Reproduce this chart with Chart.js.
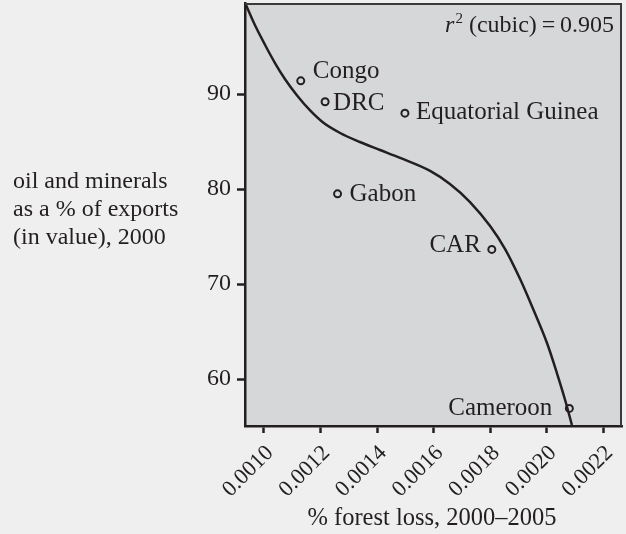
<!DOCTYPE html>
<html><head><meta charset="utf-8">
<script src="https://cdn.jsdelivr.net/npm/chart.js@4.4.0/dist/chart.umd.min.js"></script>
<style>html,body{margin:0;padding:0;background:#efefef;}canvas{display:block}</style>
</head><body><canvas id="c" width="626" height="534"></canvas>
<script>
// ---- data ----
const countries = ['Congo', 'DRC', 'Equatorial Guinea', 'Gabon', 'CAR', 'Cameroon'];
const forestLoss = [0.00113, 0.001216, 0.001498, 0.00126, 0.001805, 0.002079];
const oilMinerals = [91.4, 89.2, 88.0, 79.5, 73.65, 56.9];
// cubic fit curve
const fitX = [0.0009365, 0.000968, 0.001004, 0.001039, 0.001074, 0.001117, 0.001163, 0.001209, 0.001269, 0.001339, 0.00141, 0.001481, 0.001587, 0.001657, 0.001728, 0.001799, 0.001852, 0.001905, 0.001951, 0.002, 0.002035, 0.002064, 0.002088];
const fitY = [99.39, 97.28, 95.18, 93.28, 91.6, 89.86, 88.28, 87.01, 85.91, 84.96, 84.12, 83.28, 81.91, 80.54, 78.64, 76.11, 73.69, 70.53, 67.37, 63.79, 60.63, 57.79, 55.16];
const xTicks = [0.0010, 0.0012, 0.0014, 0.0016, 0.0018, 0.0020, 0.0022];
const yTicks = [60, 70, 80, 90];
const xTitle = '% forest loss, 2000\u20132005';
const yTitle = ['oil and minerals', 'as a % of exports', '(in value), 2000'];
const fitLabel = ['r', '2', '(cubic)\u2009=\u20090.905'];

// ---- label placement (layout only) ----
const labelPlace = [
  {side: 'right', dx: 12, dy: -9},
  {side: 'right', dx: 8, dy: 2},
  {side: 'right', dx: 11, dy: -1},
  {side: 'right', dx: 12, dy: 1},
  {side: 'left', dx: -11, dy: -4},
  {side: 'left', dx: -17, dy: 0}
];

const INK = '#231f20';
const FONT = 'Liberation Serif, Times New Roman, serif';

const deco = {
  id: 'deco',
  beforeDraw(chart) {
    const {ctx, chartArea: a} = chart;
    ctx.save();
    ctx.fillStyle = '#efefef';
    ctx.fillRect(0, 0, chart.width, chart.height);
    ctx.fillStyle = '#d6d7d9';
    ctx.fillRect(a.left, a.top, a.right - a.left, a.bottom - a.top);
    ctx.restore();
  },
  afterDraw(chart) {
    const {ctx, chartArea: a, scales} = chart;
    ctx.save();
    // top/right frame
    ctx.strokeStyle = '#3a3a3a';
    ctx.lineWidth = 2;
    ctx.beginPath();
    ctx.moveTo(a.left, a.top + 1);
    ctx.lineTo(a.right - 1, a.top + 1);
    ctx.lineTo(a.right - 1, a.bottom);
    ctx.stroke();
    ctx.fillStyle = INK;
    ctx.textBaseline = 'middle';
    ctx.font = '25px ' + FONT;
    // point labels
    countries.forEach((name, i) => {
      const px = scales.x.getPixelForValue(forestLoss[i]);
      const py = scales.y.getPixelForValue(oilMinerals[i]);
      const p = labelPlace[i];
      ctx.textAlign = p.side === 'right' ? 'left' : 'right';
      ctx.fillText(name, px + p.dx, py + p.dy);
    });
    // y title
    ctx.font = '24px ' + FONT;
    ctx.textAlign = 'left';
    yTitle.forEach((t, i) => ctx.fillText(t, 13, 182 + i * 28));
    // x title
    ctx.font = '24.5px ' + FONT;
    ctx.textAlign = 'center';
    ctx.fillText(xTitle, 432, 519);
    // r^2 annotation
    ctx.font = '24px ' + FONT;
    ctx.textBaseline = 'alphabetic';
    ctx.textAlign = 'right';
    const rx = a.right - 8, ry = 32;
    ctx.fillText(fitLabel[2], rx, ry);
    const w = ctx.measureText(fitLabel[2]).width;
    ctx.font = '15px ' + FONT;
    ctx.fillText(fitLabel[1], rx - w - 6, ry - 9);
    const w2 = ctx.measureText(fitLabel[1]).width;
    ctx.font = 'italic 24px ' + FONT;
    ctx.fillText(fitLabel[0], rx - w - 6 - w2 - 1, ry);
    ctx.restore();
  }
};

new Chart(document.getElementById('c'), {
  type: 'scatter',
  data: {
    datasets: [
      {
        type: 'line',
        data: fitX.map((x, i) => ({x, y: fitY[i]})),
        borderColor: INK,
        borderWidth: 2.5,
        pointRadius: 0,
        fill: false,
        cubicInterpolationMode: 'monotone'
      },
      {
        data: forestLoss.map((x, i) => ({x, y: oilMinerals[i]})),
        pointRadius: 3.5,
        pointBorderWidth: 2,
        pointBorderColor: INK,
        pointBackgroundColor: 'rgba(0,0,0,0)'
      }
    ]
  },
  options: {
    responsive: false,
    animation: false,
    clip: false,
    layout: {autoPadding: false, padding: {top: 3, right: 4, left: 0, bottom: 0}},
    plugins: {legend: {display: false}, tooltip: {enabled: false}},
    scales: {
      x: {
        type: 'linear',
        min: 0.000933,
        max: 0.002265,
        afterFit(s) { s.height = 108; s.paddingLeft = 0; s.paddingRight = 0; },
        afterBuildTicks(s) { s.ticks = xTicks.map(v => ({value: v})); },
        grid: {drawOnChartArea: false, drawTicks: true, tickLength: 7, tickColor: INK, tickWidth: 2.5},
        border: {display: true, color: INK, width: 2.5},
        ticks: {
          color: INK, font: {family: FONT, size: 22.5}, minRotation: 45, maxRotation: 45, padding: 7,
          labelOffset: 6,
          callback: v => v.toFixed(4)
        }
      },
      y: {
        type: 'linear',
        min: 55.05,
        max: 99.6,
        afterFit(s) { s.width = 245; s.paddingTop = 0; s.paddingBottom = 0; },
        afterBuildTicks(s) { s.ticks = yTicks.map(v => ({value: v})); },
        grid: {drawOnChartArea: false, drawTicks: true, tickLength: 8, tickColor: INK, tickWidth: 2.5},
        border: {display: true, color: INK, width: 2.5},
        ticks: {color: INK, font: {family: FONT, size: 24}, padding: 6, callback: v => String(v)}
      }
    }
  },
  plugins: [deco]
});
</script></body></html>
